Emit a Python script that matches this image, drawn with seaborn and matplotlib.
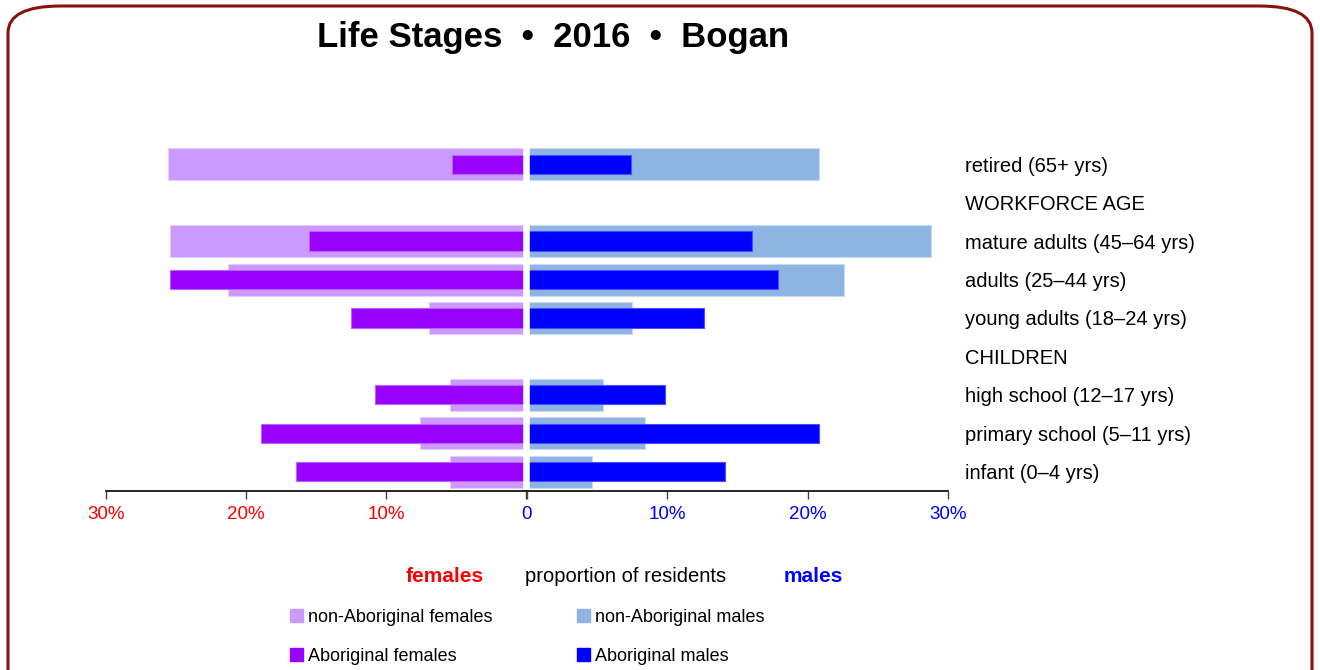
import matplotlib
matplotlib.use("Agg")
import matplotlib.pyplot as plt
from matplotlib.patches import FancyBboxPatch, Patch
import numpy as np
import pandas as pd
import seaborn as sns

# rows, top to bottom (headings carry no data)
stages = ["retired (65+ yrs)", "WORKFORCE AGE", "mature adults (45\u201364 yrs)",
          "adults (25\u201344 yrs)", "young adults (18\u201324 yrs)", "CHILDREN",
          "high school (12\u201317 yrs)", "primary school (5\u201311 yrs)", "infant (0\u20134 yrs)"]

nonab_females = [25.6, np.nan, 25.4, 21.3, 6.9, np.nan, 5.4, 7.6, 5.4]
ab_females = [5.3, np.nan, 15.5, 25.4, 12.5, np.nan, 10.8, 18.9, 16.4]
nonab_males = [20.8, np.nan, 28.8, 22.6, 7.5, np.nan, 5.4, 8.4, 4.6]
ab_males = [7.4, np.nan, 16.0, 17.9, 12.6, np.nan, 9.8, 20.8, 14.1]

left_ticks = ["30%", "20%", "10%", "0"]
right_ticks = ["0", "10%", "20%", "30%"]

c_nonab_f = "#CC99FF"
c_ab_f = "#9900FF"
c_nonab_m = "#8EB4E3"
c_ab_m = "#0000FF"

df = pd.DataFrame({"stage": stages, "nonab_f": nonab_females, "ab_f": ab_females,
                   "nonab_m": nonab_males, "ab_m": ab_males})

sns.set_style("white")
plt.rcParams["font.family"] = ["Liberation Sans", "DejaVu Sans"]
plt.rcParams["text.color"] = "black"

fig = plt.figure(figsize=(13.2, 6.7), dpi=100)
ax_l = fig.add_axes([106 / 1320, 1 - 491 / 670, 420 / 1320, 346 / 670])
ax_r = fig.add_axes([527 / 1320, 1 - 491 / 670, 421 / 1320, 346 / 670])

d = df.dropna()
sns.barplot(data=d, y="stage", x="nonab_f", order=stages, color=c_nonab_f,
            width=0.83, saturation=1, ax=ax_l, edgecolor="#E3CCFF", linewidth=0.8)
sns.barplot(data=d, y="stage", x="ab_f", order=stages, color=c_ab_f,
            width=0.5, saturation=1, ax=ax_l, edgecolor="#B266FF", linewidth=0.8)
sns.barplot(data=d, y="stage", x="nonab_m", order=stages, color=c_nonab_m,
            width=0.83, saturation=1, ax=ax_r, edgecolor="#C6DAF1", linewidth=0.8)
sns.barplot(data=d, y="stage", x="ab_m", order=stages, color=c_ab_m,
            width=0.5, saturation=1, ax=ax_r, edgecolor="#4D4DFF", linewidth=0.8)

for ax in (ax_l, ax_r):
    ax.set_ylim(len(stages) - 0.5, -0.5)
    ax.set_xlabel("")
    ax.set_ylabel("")
    for s in ("top", "left", "right"):
        ax.spines[s].set_visible(False)
    ax.spines["bottom"].set_color("black")
    ax.spines["bottom"].set_linewidth(1.2)
    ax.spines["bottom"].set_zorder(3)
    ax.tick_params(axis="x", direction="out", length=6, width=1, color="#444444",
                   labelsize=13.5, pad=5, bottom=True)
    ax.axvline(0, color="white", lw=4, zorder=2)

ax_l.set_xlim(30, 0)
ax_l.set_xticks([30, 20, 10, 0])
ax_l.set_xticklabels(left_ticks, color="red")
ax_l.get_xticklabels()[-1].set_visible(False)  # the blue "0" on the right covers it
ax_l.set_yticks([])

ax_r.set_xlim(0, 30)
ax_r.set_xticks([0, 10, 20, 30])
ax_r.set_xticklabels(right_ticks, color="blue")
ax_r.yaxis.tick_right()
ax_r.tick_params(axis="y", length=0, pad=12, labelsize=14.5, labelcolor="black")
ax_r.set_yticks(range(len(stages)))
ax_r.set_yticklabels(stages)
ax_r.set_zorder(ax_l.get_zorder() + 1)

fig.text(553 / 1320, 1 - 38 / 670, "Life Stages  \u2022  2016  \u2022  Bogan",
         ha="center", va="center", fontsize=25, fontweight="bold")

fig.text(484 / 1320, 1 - 576 / 670, "females", ha="right", va="center",
         fontsize=15, fontweight="bold", color="red")
fig.text(626 / 1320, 1 - 576 / 670, "proportion of residents", ha="center",
         va="center", fontsize=14.5, color="black")
fig.text(784 / 1320, 1 - 576 / 670, "males", ha="left", va="center",
         fontsize=15, fontweight="bold", color="blue")

handles = [Patch(color=c_nonab_f, label="non-Aboriginal females"),
           Patch(color=c_ab_f, label="Aboriginal females"),
           Patch(color=c_nonab_m, label="non-Aboriginal males"),
           Patch(color=c_ab_m, label="Aboriginal males")]
leg = fig.legend(handles=handles, ncol=2, loc="upper left",
                 bbox_to_anchor=(281 / 1320, 1 - 600 / 670), frameon=False,
                 fontsize=13, handlelength=0.7, handleheight=0.7, handletextpad=0.3,
                 columnspacing=4.7, labelspacing=1.2, borderpad=0)
for t in leg.get_texts():
    t.set_color("black")

border = FancyBboxPatch((8 / 1320, -0.1), 1304 / 1320, 1.1 - 6 / 670,
                        boxstyle="round,pad=0,rounding_size=0.04",
                        transform=fig.transFigure, fill=False,
                        edgecolor="#8B1010", linewidth=2.2, clip_on=False)
fig.patches.append(border)

fig.savefig("out.png", dpi=100)
